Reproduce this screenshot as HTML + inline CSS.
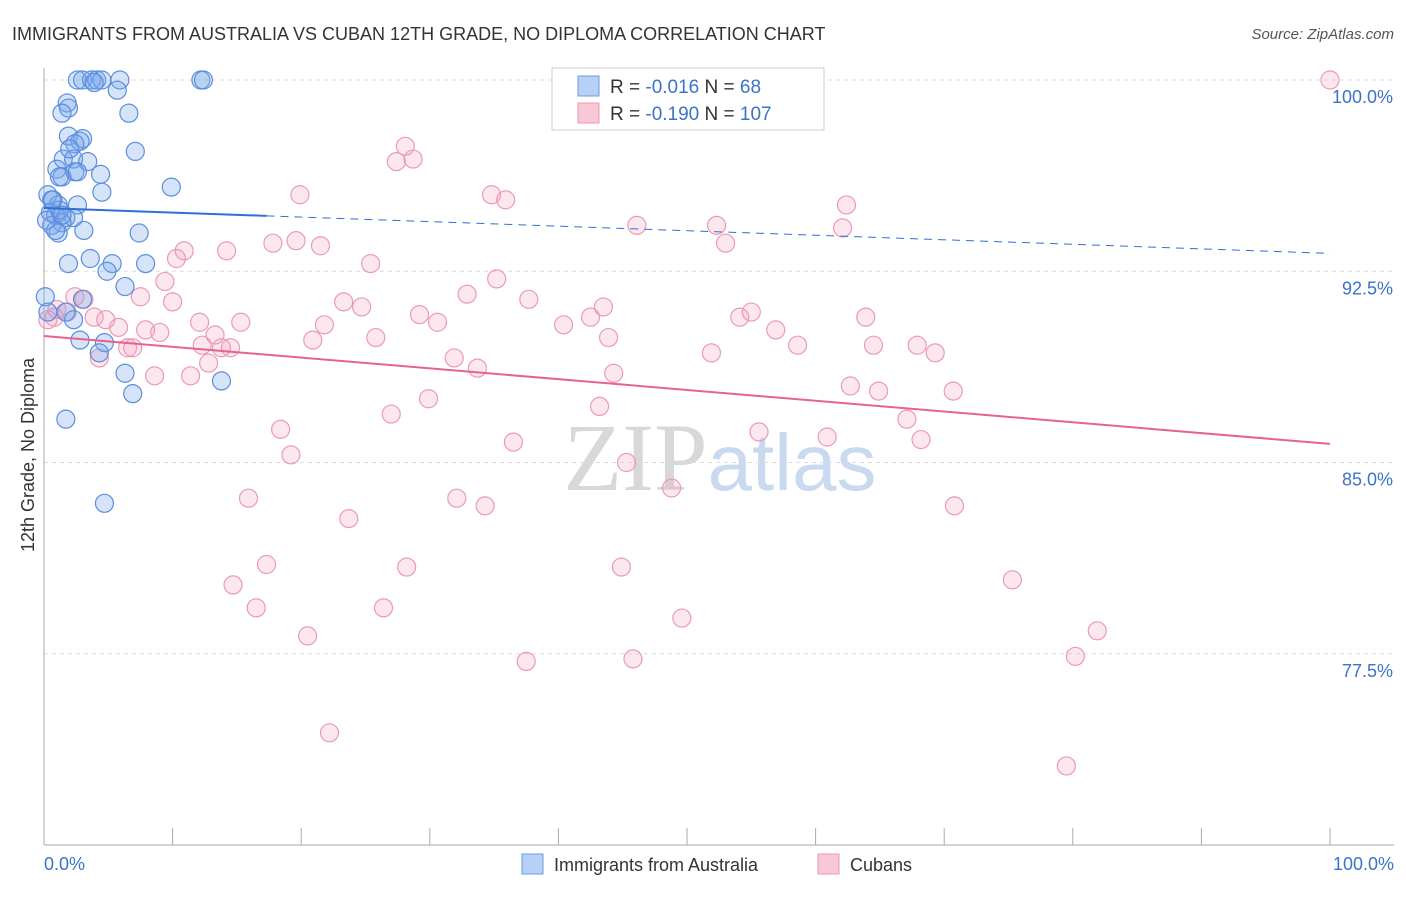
<!DOCTYPE html>
<html><head><meta charset="utf-8"><style>
body{margin:0;background:#fff;font-family:"Liberation Sans",sans-serif;}
svg text{font-family:"Liberation Sans",sans-serif;}
</style></head><body>
<svg id="chart" width="1406" height="892" viewBox="0 0 1406 892" xmlns="http://www.w3.org/2000/svg">
<text x="12" y="40" font-size="18" fill="#333">IMMIGRANTS FROM AUSTRALIA VS CUBAN 12TH GRADE, NO DIPLOMA CORRELATION CHART</text>
<text x="1394" y="39" font-size="15" fill="#555" font-style="italic" text-anchor="end">Source: ZipAtlas.com</text>
<text x="720" y="490" font-size="96" text-anchor="middle"><tspan fill="#d8d8d8" font-family="Liberation Serif">ZIP</tspan><tspan fill="#c8d9f0" font-size="80">atlas</tspan></text>
<g id="grid"></g>
<g id="axes"></g>
<g id="pts"></g>
<g id="trends"></g>
<text transform="translate(34,455) rotate(-90)" font-size="18" fill="#333" text-anchor="middle">12th Grade, No Diploma</text>
<g>
<rect x="552" y="68" width="272" height="62" fill="#fff" stroke="#ccc"/>
<rect x="578" y="76" width="21" height="20" fill="#b7d0f5" stroke="#6c9be0"/>
<rect x="578" y="103" width="21" height="20" fill="#f9c8d7" stroke="#ec9ab6"/>
<text x="610" y="93" font-size="19" fill="#333">R = <tspan fill="#3b73c9">-0.016</tspan>   N = <tspan fill="#3b73c9">  68</tspan></text>
<text x="610" y="120" font-size="19" fill="#333">R = <tspan fill="#3b73c9">-0.190</tspan>   N = <tspan fill="#3b73c9">107</tspan></text>
</g>
<g>
<rect x="522" y="854" width="21" height="20" fill="#b7d0f5" stroke="#6c9be0"/>
<text x="554" y="871" font-size="18" fill="#333">Immigrants from Australia</text>
<rect x="818" y="854" width="21" height="20" fill="#f9c8d7" stroke="#ec9ab6"/>
<text x="850" y="871" font-size="18" fill="#333">Cubans</text>
</g>
</svg>
<script>
const yTicks=[100,92.5,85,77.5];
const yTickLabels=["100.0%","92.5%","85.0%","77.5%"];
const xTickLabels=["0.0%","100.0%"];
const blueX=[2.6,3.0,3.7,4.1,4.5,5.9,12.2,12.4,5.7,1.8,1.9,1.4,6.6,1.9,3.0,2.8,2.4,7.1,1.5,2.3,3.4,1.0,1.4,2.4,2.6,4.4,1.2,9.9,4.5,0.3,0.7,1.1,2.6,0.5,0.9,1.7,2.3,1.4,0.6,1.1,3.1,7.4,3.6,1.9,5.3,7.9,4.9,6.3,0.1,3.0,0.3,1.7,2.3,2.8,4.7,4.3,6.3,13.8,6.9,1.7,4.7,0.9,1.2,0.2,0.6,3.9,1.4,2.0];
const blueY=[100,100,100,100,100,100,100,100,99.6,99.1,98.9,98.7,98.7,97.8,97.7,97.6,97.5,97.2,96.9,96.9,96.8,96.5,96.2,96.4,96.4,96.3,96.2,95.8,95.6,95.5,95.3,95.1,95.1,94.8,94.7,94.6,94.6,94.4,94.3,94.0,94.1,94.0,93.0,92.8,92.8,92.8,92.5,91.9,91.5,91.4,90.9,90.9,90.6,89.8,89.7,89.3,88.5,88.2,87.7,86.7,83.4,94.1,94.9,94.5,95.3,99.9,94.7,97.3];
const pinkX=[100,28.1,27.4,28.7,34.8,35.9,19.9,46.1,52.3,62.4,62.1,10.9,14.2,17.8,19.6,21.5,53.0,10.3,25.4,9.4,35.2,7.5,10.0,3.1,2.4,1.0,1.8,0.8,3.9,4.8,5.8,7.9,9.0,12.1,13.3,12.3,14.5,15.3,13.8,21.8,23.3,24.7,20.9,25.8,29.2,30.6,32.9,37.7,40.4,42.5,43.5,43.9,54.1,55.0,56.9,58.6,63.9,64.5,67.9,69.3,31.9,33.7,44.3,51.9,4.3,6.5,6.9,8.6,11.4,12.8,27.0,29.9,43.2,62.7,64.9,70.7,67.1,68.2,18.4,19.2,36.5,55.6,60.9,45.3,48.8,15.9,32.1,34.3,23.7,70.8,17.3,28.2,44.9,14.7,16.5,26.4,75.3,20.5,49.6,81.9,37.5,45.8,80.2,22.2,79.5,0.3];
const pinkY=[100,97.4,96.8,96.9,95.5,95.3,95.5,94.3,94.3,95.1,94.2,93.3,93.3,93.6,93.7,93.5,93.6,93.0,92.8,92.1,92.2,91.5,91.3,91.4,91.5,91.0,90.9,90.7,90.7,90.6,90.3,90.2,90.1,90.5,90.0,89.6,89.5,90.5,89.5,90.4,91.3,91.1,89.8,89.9,90.8,90.5,91.6,91.4,90.4,90.7,91.1,89.9,90.7,90.9,90.2,89.6,90.7,89.6,89.6,89.3,89.1,88.7,88.5,89.3,89.1,89.5,89.5,88.4,88.4,88.9,86.9,87.5,87.2,88.0,87.8,87.8,86.7,85.9,86.3,85.3,85.8,86.2,86.0,85.0,84.0,83.6,83.6,83.3,82.8,83.3,81.0,80.9,80.9,80.2,79.3,79.3,80.4,78.2,78.9,78.4,77.2,77.3,77.4,74.4,73.1,90.6];
const blueTrend=[94.98,93.2];
const pinkTrend=[89.96,85.73];
const NS="http://www.w3.org/2000/svg";
const X0=44,X1=1330,Y100=80,PXPER=25.5;
function sx(v){return X0+(X1-X0)*v/100;}
function sy(v){return Y100+(100-v)*PXPER;}
function mk(tag,attrs,parent){const e=document.createElementNS(NS,tag);for(const k in attrs)e.setAttribute(k,attrs[k]);parent.appendChild(e);return e;}
const grid=document.getElementById('grid'),axes=document.getElementById('axes'),pts=document.getElementById('pts'),trends=document.getElementById('trends');
yTicks.forEach((t,i)=>{
  const l=mk('line',{x1:44,x2:1394,y1:sy(t),y2:sy(t),stroke:'#ddd','stroke-dasharray':'4,4'},grid);
  
  
  const tx=mk('text',{x:1393,y:sy(t)+23,'font-size':18,fill:'#3b73c9','text-anchor':'end'},grid);
  tx.textContent=yTickLabels[i];
  
  
});
const ax=mk('line',{x1:44,x2:1394,y1:845,y2:845,stroke:'#aaa'},axes);


const ay=mk('line',{x1:44,x2:44,y1:68,y2:845,stroke:'#aaa'},axes);


for(let i=0;i<=10;i++){
  const t=mk('line',{x1:sx(i*10),x2:sx(i*10),y1:828,y2:845,stroke:'#aaa'},axes);
  
  
}
const xl0=mk('text',{x:44,y:870,'font-size':18,fill:'#3b73c9'},axes);xl0.textContent=xTickLabels[0];


const xl1=mk('text',{x:1394,y:870,'font-size':18,fill:'#3b73c9','text-anchor':'end'},axes);xl1.textContent=xTickLabels[1];


pinkX.forEach((x,i)=>{
  const c=mk('circle',{cx:sx(x),cy:sy(pinkY[i]),r:9,fill:'rgba(244,160,190,0.25)',stroke:'#eb9ab5','stroke-width':1.2},pts);
  
  
});
blueX.forEach((x,i)=>{
  const c=mk('circle',{cx:sx(x),cy:sy(blueY[i]),r:9,fill:'rgba(120,165,235,0.3)',stroke:'#5a8ede','stroke-width':1.2},pts);
  
  
});
const bt=mk('line',{x1:sx(0),y1:sy(blueTrend[0]),x2:sx(17.3),y2:sy(blueTrend[0]+(blueTrend[1]-blueTrend[0])*0.173),stroke:'#2f6fd6','stroke-width':2},trends);


const bd=mk('line',{x1:sx(17.3),y1:sy(blueTrend[0]+(blueTrend[1]-blueTrend[0])*0.173),x2:sx(100),y2:sy(blueTrend[1]),stroke:'#2f6fd6','stroke-width':1,'stroke-dasharray':'8,6'},trends);


const pt=mk('line',{x1:sx(0),y1:sy(pinkTrend[0]),x2:sx(100),y2:sy(pinkTrend[1]),stroke:'#e8628f','stroke-width':2},trends);


</script>
</body></html>
